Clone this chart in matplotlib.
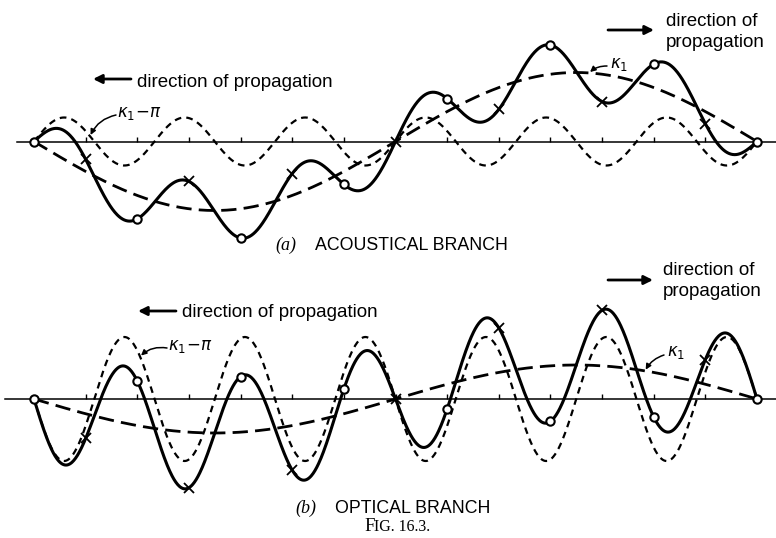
import numpy as np
import matplotlib
matplotlib.use("Agg")
import matplotlib.pyplot as plt

plt.rcParams['mathtext.fontset'] = 'dejavusans'

# ---------------- data ----------------
atom_index = np.arange(15)            # lattice sites 0..14
tick_index = np.arange(1, 14)         # small ticks on the axis
k1 = 2 * np.pi / 14                   # one wavelength over the chain
wave_k = [k1, k1 - np.pi]             # kappa1 and kappa1 - pi
acoustic_dashed_amp = [69, 24]        # long dash (k1), short dash (k1-pi)
acoustic_solid_amp = [70, 29]
optical_dashed_amp = [34, -62]
optical_solid_amp = [34, -57]

# ---------------- layout (pixels) ----------------
W, H = 776, 538
x0_px, x14_px = 34, 757
spacing = (x14_px - x0_px) / 14
panels = [
    dict(top=0, bottom=265, base=141.5, line_start=17,
         dashed=acoustic_dashed_amp, solid=acoustic_solid_amp),
    dict(top=265, bottom=538, base=399, line_start=5,
         dashed=optical_dashed_amp, solid=optical_solid_amp),
]


def wave(n, amp, k):
    return -amp * np.sin(k * n)


fig = plt.figure(figsize=(W / 100, H / 100), dpi=100)
fig.patch.set_facecolor('white')

ov = fig.add_axes([0, 0, 1, 1], zorder=5)
ov.set_xlim(0, W)
ov.set_ylim(H, 0)
ov.axis('off')
ov.patch.set_alpha(0)

axes = []
nn = np.linspace(0, 14, 1200)
for p in panels:
    ax = fig.add_axes([0, 1 - p['bottom'] / H, 1, (p['bottom'] - p['top']) / H])
    ax.set_xlim(-x0_px / spacing, (W - x0_px) / spacing)
    ax.set_ylim(-(p['bottom'] - p['base']), p['base'] - p['top'])
    ax.patch.set_alpha(0)
    for s in ['top', 'left', 'right']:
        ax.spines[s].set_visible(False)
    ax.spines['bottom'].set_position(('data', 0))
    ax.spines['bottom'].set_bounds((p['line_start'] - x0_px) / spacing, (W - x0_px) / spacing)
    ax.spines['bottom'].set_linewidth(1.1)
    ax.set_xticks(tick_index)
    ax.set_yticks([])
    ax.tick_params(axis='x', direction='in', length=3.8, width=1.0, labelbottom=False)

    long_w = wave(nn, p['dashed'][0], wave_k[0])
    short_w = wave(nn, p['dashed'][1], wave_k[1])
    solid_w = wave(nn, p['solid'][0], wave_k[0]) + wave(nn, p['solid'][1], wave_k[1])
    ax.plot(nn, long_w, color='black', lw=2.0, dashes=(5.5, 2.6), zorder=2)
    ax.plot(nn, short_w, color='black', lw=1.6, dashes=(3, 2.3), zorder=2)
    ax.plot(nn, solid_w, color='black', lw=2.2, zorder=3)

    ua = wave(atom_index, p['solid'][0], wave_k[0]) + wave(atom_index, p['solid'][1], wave_k[1])
    ax.plot(atom_index[::2], ua[::2], 'o', ms=6, mfc='white', mec='black', mew=1.5, zorder=4)
    ax.plot(atom_index[1::2], ua[1::2], 'x', ms=6.5, mec='black', mew=1.3, zorder=4)
    axes.append(ax)

sans = 'Liberation Sans'
serif = 'Liberation Serif'
arrow_kw = dict(arrowstyle='-|>', lw=2.0, color='black', mutation_scale=13,
                shrinkA=0, shrinkB=0)
fs_dir = 13.5

# direction of propagation texts
ov.text(137, 87, 'direction of propagation', fontsize=fs_dir, family=sans, va='baseline')
ov.annotate('', xy=(93, 79), xytext=(131, 79), arrowprops=arrow_kw)
ov.text(666, 26, 'direction of', fontsize=fs_dir, family=sans, va='baseline')
ov.text(666, 47, 'propagation', fontsize=fs_dir, family=sans, va='baseline')
ov.annotate('', xy=(654, 30), xytext=(608, 30), arrowprops=arrow_kw)

ov.text(182, 317, 'direction of propagation', fontsize=fs_dir, family=sans, va='baseline')
ov.annotate('', xy=(138, 311), xytext=(176, 311), arrowprops=arrow_kw)
ov.text(663, 275, 'direction of', fontsize=fs_dir, family=sans, va='baseline')
ov.text(663, 296, 'propagation', fontsize=fs_dir, family=sans, va='baseline')
ov.annotate('', xy=(653, 280), xytext=(608, 280), arrowprops=arrow_kw)

# branch captions
ov.text(296, 250, '(a)', fontsize=13, family=serif, style='italic', ha='right', va='baseline')
ov.text(315, 250, 'ACOUSTICAL BRANCH', fontsize=12.8, family=sans, va='baseline')
ov.text(316, 513, '(b)', fontsize=13, family=serif, style='italic', ha='right', va='baseline')
ov.text(335, 513, 'OPTICAL BRANCH', fontsize=12.8, family=sans, va='baseline')

# Fig. caption in small caps
fig.canvas.draw()
r = fig.canvas.get_renderer()
tF = ov.text(364, 531, 'F', fontsize=13.5, family=serif, va='baseline')
bb = tF.get_window_extent(renderer=r)
ov.text(364 + bb.width, 531, 'IG. 16.3.', fontsize=11.5, family=serif, va='baseline')

# kappa labels with pointer arrows
lab_kw = dict(arrowstyle='-|>', lw=1.1, color='black', mutation_scale=8, shrinkA=0, shrinkB=1)
label = r'$\kappa_1\!-\!\pi$'


def px2n(px):
    return (px - x0_px) / spacing


ov.text(117, 113, label, fontsize=12, va='center', ha='left')
nt = px2n(90)
axes[0].annotate('', xy=(nt, wave(nt, acoustic_dashed_amp[1], wave_k[1])), xycoords='data',
                 xytext=(116, 115), textcoords=ov.transData,
                 arrowprops=dict(connectionstyle='arc3,rad=0.25', **lab_kw))
ov.text(610, 64, r'$\kappa_1$', fontsize=12, va='center', ha='left')
nt = px2n(589)
axes[0].annotate('', xy=(nt, wave(nt, acoustic_dashed_amp[0], wave_k[0])), xycoords='data',
                 xytext=(607, 66), textcoords=ov.transData,
                 arrowprops=dict(connectionstyle='arc3,rad=0.2', **lab_kw))

ov.text(168, 346, label, fontsize=12, va='center', ha='left')
nt = px2n(140)
axes[1].annotate('', xy=(nt, wave(nt, optical_dashed_amp[1], wave_k[1])), xycoords='data',
                 xytext=(167, 348), textcoords=ov.transData,
                 arrowprops=dict(connectionstyle='arc3,rad=0.25', **lab_kw))
ov.text(667, 352, r'$\kappa_1$', fontsize=12, va='center', ha='left')
nt = px2n(645)
axes[1].annotate('', xy=(nt, wave(nt, optical_dashed_amp[0], wave_k[0])), xycoords='data',
                 xytext=(664, 355), textcoords=ov.transData,
                 arrowprops=dict(connectionstyle='arc3,rad=0.2', **lab_kw))

fig.savefig('out.png', dpi=100, facecolor='white')
